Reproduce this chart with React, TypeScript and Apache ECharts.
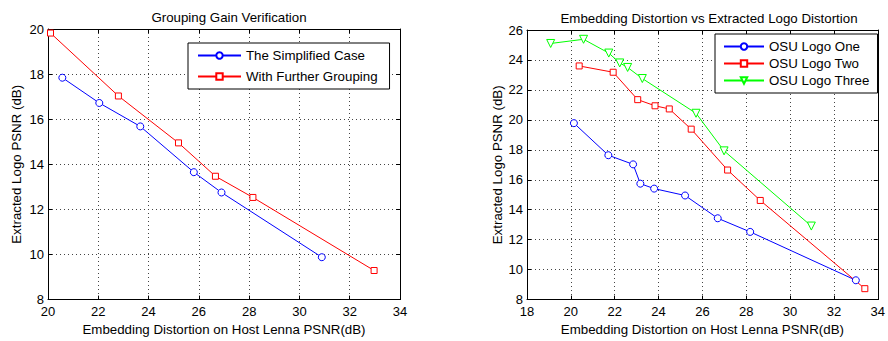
import React, { useEffect, useRef } from "react";
import * as echarts from "echarts";

// Left chart: Grouping Gain Verification
const simplifiedX = [20.57, 22.04, 23.67, 25.8, 26.9, 30.89];
const simplifiedY = [17.84, 16.72, 15.68, 13.65, 12.75, 9.88];
const furtherX = [20.1, 22.8, 25.19, 26.66, 28.15, 32.97];
const furtherY = [19.82, 17.03, 14.95, 13.47, 12.53, 9.29];

// Right chart: Embedding Distortion vs Extracted Logo Distortion
const logoOneX = [20.14, 21.71, 22.84, 23.17, 23.8, 25.21, 26.7, 28.18, 33.0];
const logoOneY = [19.78, 17.64, 17.03, 15.74, 15.41, 14.95, 13.43, 12.52, 9.29];
const logoTwoX = [20.38, 21.93, 23.05, 23.84, 24.49, 25.49, 27.15, 28.64, 33.41];
const logoTwoY = [23.6, 23.18, 21.35, 20.94, 20.73, 19.38, 16.65, 14.62, 8.73];
const logoThreeX = [19.08, 20.58, 21.73, 22.23, 22.59, 23.26, 25.71, 26.99, 30.97];
const logoThreeY = [25.1, 25.38, 24.46, 23.8, 23.5, 22.76, 20.44, 17.93, 12.91];

const leftNames = ["The Simplified Case", "With Further Grouping"];
const rightNames = ["OSU Logo One", "OSU Logo Two", "OSU Logo Three"];
const titles = ["Grouping Gain Verification", "Embedding Distortion vs Extracted Logo Distortion"];
const xName = "Embedding Distortion on Host Lenna PSNR(dB)";
const yName = "Extracted Logo PSNR (dB)";

const FONT = "'Liberation Sans', Arial, Helvetica, sans-serif";
const NAME_SIZE = 13.3;
const TICK_SIZE = 13;

const zip = (xs: number[], ys: number[]) => xs.map((x, i) => [x, ys[i]]);

const gridLine = { show: true, lineStyle: { color: "#444", type: [1, 3] as any, width: 1 } };
const axisLine = { show: true, onZero: false, lineStyle: { color: "#000", width: 1 } };
const axisTick = { show: true, inside: true, length: 4, lineStyle: { color: "#000" } };

function mainX(gridIndex: number, min: number, max: number, nameGap: number) {
  return {
    type: "value",
    gridIndex,
    min,
    max,
    interval: 2,
    position: "bottom",
    name: xName,
    nameLocation: "middle",
    nameGap,
    nameTextStyle: { color: "#000", fontSize: NAME_SIZE, fontFamily: FONT },
    axisLine,
    axisTick,
    axisLabel: { color: "#000", fontSize: TICK_SIZE, fontFamily: FONT, margin: 6, lineHeight: 12 },
    splitLine: gridLine,
  };
}
function mirrorX(gridIndex: number, min: number, max: number) {
  return {
    type: "value",
    gridIndex,
    min,
    max,
    interval: 2,
    position: "top",
    axisLine,
    axisTick,
    axisLabel: { show: false },
    splitLine: { show: false },
  };
}
function mainY(gridIndex: number, min: number, max: number, nameGap: number) {
  return {
    type: "value",
    gridIndex,
    min,
    max,
    interval: 2,
    position: "left",
    name: yName,
    nameLocation: "middle",
    nameGap,
    nameTextStyle: { color: "#000", fontSize: NAME_SIZE, fontFamily: FONT },
    axisLine,
    axisTick,
    axisLabel: { color: "#000", fontSize: TICK_SIZE, fontFamily: FONT, margin: 4, lineHeight: 11 },
    splitLine: gridLine,
  };
}
function mirrorY(gridIndex: number, min: number, max: number) {
  return {
    type: "value",
    gridIndex,
    min,
    max,
    interval: 2,
    position: "right",
    axisLine,
    axisTick,
    axisLabel: { show: false },
    splitLine: { show: false },
  };
}

function lineSeries(name: string, data: number[][], color: string, symbol: string, size: number, xi: number, yi: number, rotate = 0) {
  return {
    type: "line",
    name,
    data,
    xAxisIndex: xi,
    yAxisIndex: yi,
    symbol,
    symbolSize: size,
    symbolRotate: rotate,
    showAllSymbol: true,
    lineStyle: { color, width: 1 },
    itemStyle: { color: "#fff", borderColor: color, borderWidth: 1 },
    emphasis: { disabled: true },
  };
}

export default function App() {
  const ref = useRef<HTMLDivElement>(null);
  useEffect(() => {
    if (!ref.current) return;
    const chart = echarts.init(ref.current, undefined, { renderer: "svg" });
    const titleStyle = { fontSize: NAME_SIZE, fontWeight: "normal", color: "#000", fontFamily: FONT };
    chart.setOption({
      animation: false,
      backgroundColor: "#fff",
      textStyle: { fontFamily: FONT },
      title: [
        { text: titles[0], left: 224, top: 6, textAlign: "center", textStyle: titleStyle },
        { text: titles[1], left: 704, top: 7, textAlign: "center", textStyle: titleStyle },
      ],
      grid: [
        { left: 48, top: 29, width: 352, height: 272, show: false },
        { left: 527, top: 30, width: 352, height: 272, show: false },
      ],
      xAxis: [mainX(0, 20, 34, 21), mirrorX(0, 20, 34), mainX(1, 18, 34, 21), mirrorX(1, 18, 34)],
      yAxis: [mainY(0, 8, 20, 25), mirrorY(0, 8, 20), mainY(1, 8, 26, 23), mirrorY(1, 8, 26)],
      legend: [
        {
          data: leftNames,
          orient: "vertical",
          left: 188,
          top: 43,
          padding: [6, 12, 6, 9],
          itemWidth: 43,
          itemHeight: 8,
          itemGap: 8,
          borderColor: "#000",
          borderWidth: 1,
          backgroundColor: "#fff",
          selectedMode: false,
          textStyle: { fontSize: 13.3, color: "#000", fontFamily: FONT },
        },
        {
          data: rightNames,
          orient: "vertical",
          left: 715,
          top: 34,
          padding: [6, 8, 6, 8],
          itemWidth: 40,
          itemHeight: 8,
          itemGap: 4,
          borderColor: "#000",
          borderWidth: 1,
          backgroundColor: "#fff",
          selectedMode: false,
          textStyle: { fontSize: 13.3, color: "#000", fontFamily: FONT },
        },
      ],
      series: [
        lineSeries(leftNames[0], zip(simplifiedX, simplifiedY), "#0000ff", "circle", 7, 0, 0),
        lineSeries(leftNames[1], zip(furtherX, furtherY), "#ff0000", "rect", 6, 0, 0),
        lineSeries(rightNames[0], zip(logoOneX, logoOneY), "#0000ff", "circle", 7, 2, 2),
        lineSeries(rightNames[1], zip(logoTwoX, logoTwoY), "#ff0000", "rect", 6, 2, 2),
        lineSeries(rightNames[2], zip(logoThreeX, logoThreeY), "#00ff00", "triangle", 8, 2, 2, 180),
      ],
    });
    return () => chart.dispose();
  }, []);
  return <div ref={ref} style={{ position: "absolute", left: 0, top: 0, width: 888, height: 341 }} />;
}
